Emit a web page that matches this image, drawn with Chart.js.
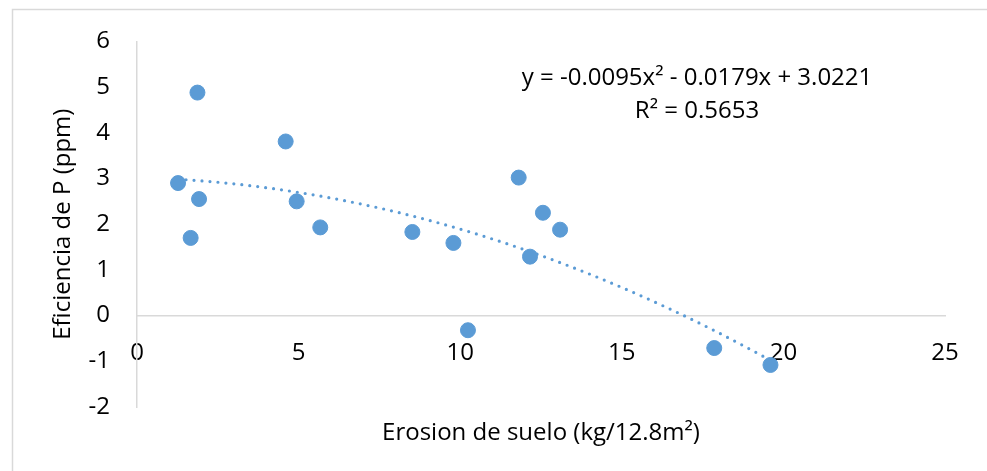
<!DOCTYPE html>
<html>
<head>
<meta charset="utf-8">
<script src="https://cdn.jsdelivr.net/npm/chart.js@4.4.1/dist/chart.umd.min.js"></script>
<style>
html, body { margin: 0; padding: 0; background: #fff; }
#wrap { width: 987px; height: 471px; }
</style>
</head>
<body>
<div id="wrap"><canvas id="myChart" width="987" height="471"></canvas></div>
<script>
// data
var erosion = [1.87, 4.60, 1.27, 1.92, 4.94, 5.67, 1.66, 8.52, 9.79, 11.81, 12.56, 13.09, 12.16, 10.24, 17.86, 19.60];
var eficiencia = [4.88, 3.81, 2.90, 2.55, 2.50, 1.93, 1.70, 1.83, 1.59, 3.02, 2.25, 1.88, 1.29, -0.32, -0.71, -1.08];
var xTicks = [0, 5, 10, 15, 20, 25];
var yTicks = [-2, -1, 0, 1, 2, 3, 4, 5, 6];
// polynomial trendline coefficients as printed on the chart (a x^2 + b x + c)
var trendCoef = [-0.0095, -0.0179, 3.0221];
var equationLines = ["y = -0.0095x\u00b2 - 0.0179x + 3.0221", "R\u00b2 = 0.5653"];
var xTitle = "Erosion de suelo (kg/12.8m\u00b2)";
var yTitle = "Eficiencia de P (ppm)";

var blue = '#5b9bd5';
var axisGray = '#d9d9d9';
var fontFam = '"Open Sans", Lato, sans-serif';
var fontSize = 24;

var points = [];
for (var i = 0; i < erosion.length; i++) {
    points.push({x: erosion[i], y: eficiencia[i]});
}

// trendline through the fitted curve, from smallest to largest x
var xmin = Math.min.apply(null, erosion);
var xmax = Math.max.apply(null, erosion);
var trend = [];
for (var k = 0; k <= 60; k++) {
    var xv = xmin + (xmax - xmin) * k / 60;
    trend.push({x: xv, y: trendCoef[0] * xv * xv + trendCoef[1] * xv + trendCoef[2]});
}

var extras = {
    id: 'extras',
    beforeDraw: function(chart) {
        var c = chart.ctx;
        c.save();
        c.strokeStyle = axisGray;
        c.lineWidth = 1.5;
        c.strokeRect(12.5, 9.5, 1000, 500);
        c.restore();
    },
    afterDraw: function(chart) {
        var c = chart.ctx;
        c.save();
        c.fillStyle = '#000';
        c.font = fontSize + 'px ' + fontFam;
        c.textAlign = 'center';
        c.textBaseline = 'middle';
        c.fillText(equationLines[0], 697, 78);
        c.fillText(equationLines[1], 697, 111);
        c.restore();
    }
};

var ctx = document.getElementById("myChart");
var myChart = new Chart(ctx, {
    type: 'scatter',
    data: {
        datasets: [
            {
                label: 'Eficiencia',
                data: points,
                backgroundColor: blue,
                borderColor: blue,
                borderWidth: 1,
                pointRadius: 7.5,
                pointHoverRadius: 7.5
            },
            {
                label: 'Tendencia',
                type: 'line',
                data: trend,
                borderColor: blue,
                borderWidth: 3.2,
                borderDash: [0, 8],
                borderCapStyle: 'round',
                pointRadius: 0,
                fill: false,
                tension: 0
            }
        ]
    },
    options: {
        responsive: false,
        animation: false,
        layout: {padding: {left: 40, top: 40, right: 42, bottom: 64}},
        plugins: {legend: {display: false}, tooltip: {enabled: false}},
        scales: {
            x: {
                type: 'linear',
                position: {y: 0},
                min: 0,
                max: 25,
                afterBuildTicks: function(s) { s.ticks = xTicks.map(function(v) { return {value: v}; }); },
                grid: {display: false, drawTicks: false},
                border: {display: true, color: axisGray, width: 1.5},
                ticks: {padding: 23, color: '#000', font: {family: fontFam, size: fontSize}, maxRotation: 0},
                title: {display: true, text: xTitle, color: '#000', font: {family: fontFam, size: fontSize}, padding: {top: 28, bottom: 0}}
            },
            y: {
                type: 'linear',
                position: 'left',
                min: -2,
                max: 6,
                afterBuildTicks: function(s) { s.ticks = yTicks.map(function(v) { return {value: v}; }); },
                afterFit: function(s) { s.width = 97; },
                grid: {display: false, drawTicks: false},
                border: {display: true, color: axisGray, width: 1.5},
                ticks: {padding: 27, color: '#000', font: {family: fontFam, size: fontSize}},
                title: {display: true, text: yTitle, color: '#000', font: {family: fontFam, size: fontSize}, padding: {top: 9, bottom: 0}}
            }
        }
    },
    plugins: [extras]
});
</script>
</body>
</html>
